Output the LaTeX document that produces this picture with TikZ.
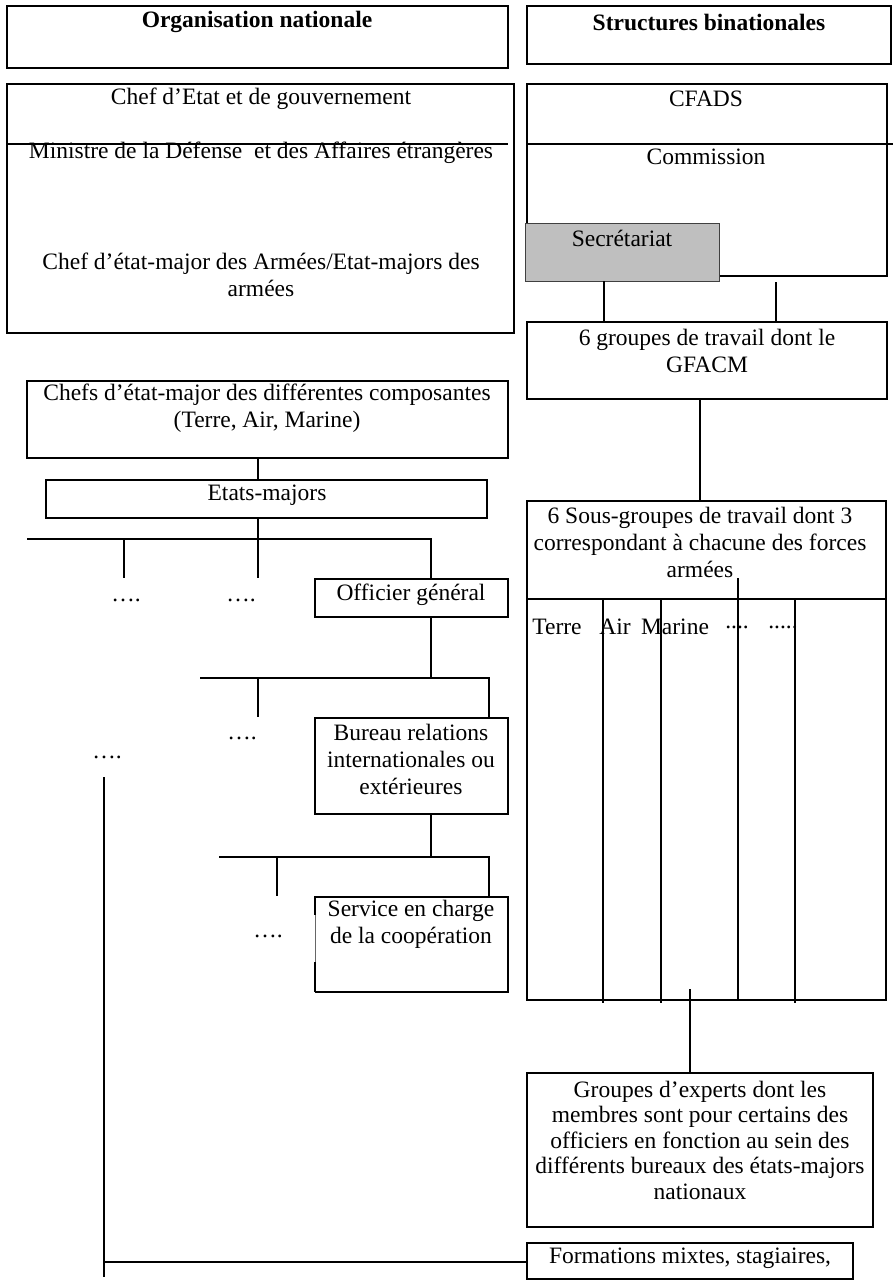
\documentclass[tikz,border=0pt]{standalone}
\usepackage{fontspec}
\setmainfont{Liberation Serif}
\usetikzlibrary{calc}
\begin{document}
\begin{tikzpicture}[x=1pt,y=-1pt,
  line width=1.3pt,
  box/.style={draw, inner sep=0pt, outer sep=0pt, line width=1.3pt},
  txt/.style={inner sep=0pt, align=center, font=\fontsize{23.5}{27}\selectfont},
  ttl/.style={inner sep=0pt, align=center, font=\fontsize{23.5}{27}\selectfont\bfseries},
  secr/.style={fill=black!25, draw=black!75, line width=0.8pt, inner sep=0pt, outer sep=0pt}
]
\useasboundingbox[fill=white] (0,0) rectangle (893,1281);

% headers
\node[box, minimum width=501pt, minimum height=62pt] (hdrL) at (257.5,37) {};
\node[box, minimum width=364pt, minimum height=58pt] (hdrR) at (709,35) {};
\node[ttl] (tL) at (257,22) {Organisation nationale};
\node[ttl] (tR) at (709,22) {Structures binationales};

% national top box
\node[box, minimum width=507pt, minimum height=249pt] (natL) at (260.5,208.5) {};
\coordinate (nlA) at (7,144);
\coordinate (nlB) at (508,144);
\draw (nlA) -- (nlB);
\node[txt] (chef) at (261,99) {Chef d’Etat et de gouvernement};
\node[txt] (mini) at (261,153) {Ministre de la Défense\ \ et des Affaires étrangères};
\node[txt] (cema) at (261,274.5) {Chef d’état-major des Armées/Etat-majors des\\armées};

% binational top box
\node[box, minimum width=360pt, minimum height=192pt] (cfads) at (707,180) {};
\coordinate (crA) at (527,144);
\coordinate (crB) at (893,144);
\draw (crA) -- (crB);
\node[txt] (tcfads) at (706,99) {CFADS};
\node[txt] (tcomm) at (706,157) {Commission};
\node[secr, minimum width=194pt, minimum height=58pt] (secret) at (622,252) {};
\node[txt] (tsecr) at (622,238) {Secrétariat};

% GFACM
\node[box, minimum width=360pt, minimum height=77pt] (gfacm) at (707,360.5) {};
\node[txt] (tgfacm) at (707,350.5) {6 groupes de travail dont le\\GFACM};
\coordinate (c1) at (604,281);
\coordinate (c2) at (776,282);
\draw (c1) -- (c1 |- gfacm.north);
\draw (c2) -- (c2 |- gfacm.north);

% sous-groupes
\node[box, minimum width=359pt, minimum height=499pt] (sous) at (706.5,750.5) {};
\node[txt] (tsous) at (700,542.5) {6 Sous-groupes de travail dont 3\\correspondant à chacune des forces\\armées};
\coordinate (g1) at (700,0);
\draw (gfacm.south -| g1) -- (sous.north -| g1);
\coordinate (shA) at (527,599);
\coordinate (shB) at (886,599);
\draw (shA) -- (shB);
\coordinate (v1) at (603,599);
\coordinate (v2) at (661,599);
\coordinate (v3) at (738,578);
\coordinate (v4) at (795,599);
\coordinate (w1) at (603,1003);
\coordinate (w2) at (661,1003);
\coordinate (w3) at (738,1001);
\coordinate (w4) at (795,1003);
\draw (v1) -- (w1);
\draw (v2) -- (w2);
\draw (v3) -- (w3);
\draw (v4) -- (w4);
\node[txt] (cTerre) at (557,627) {Terre};
\node[txt] (cAir) at (615,627) {Air};
\node[txt] (cMar) at (675,627) {Marine};
\node[txt] (cD1) at (737,627) {....};
\node[txt] (cD2) at (783,627) {.....};

% experts
\node[box, minimum width=346pt, minimum height=154pt] (experts) at (700,1150) {};
\node[inner sep=0pt, align=center, font=\fontsize{23.5}{25.5}\selectfont] (texperts) at (700,1140) {Groupes d’experts dont les\\membres sont pour certains des\\officiers en fonction au sein des\\différents bureaux des états-majors\\nationaux};
\coordinate (e1) at (690,989);
\draw (e1) -- (e1 |- experts.north);

% formations
\node[box, minimum width=326pt, minimum height=36pt] (form) at (690,1261) {};
\node[txt] (tform) at (690,1258) {Formations mixtes, stagiaires,};

% national tree
\node[box, minimum width=481pt, minimum height=77pt] (chefs) at (267.5,419.5) {};
\node[txt] (tchefs) at (267,408.5) {Chefs d’état-major des différentes composantes\\(Terre, Air, Marine)};
\node[box, minimum width=441pt, minimum height=38pt] (etats) at (266.5,499) {};
\node[txt] (tetats) at (267,495) {Etats-majors};
\coordinate (x258) at (258,0);
\draw (chefs.south -| x258) -- (etats.north -| x258);

\node[box, minimum width=193pt, minimum height=38pt] (offi) at (411.5,598) {};
\node[txt] (toffi) at (411,595) {Officier général};
\coordinate (b1L) at (27,539);
\coordinate (b1M) at (258,539);
\coordinate (b1R) at (431,539);
\coordinate (d1) at (124,539);
\coordinate (d1e) at (124,578);
\coordinate (d2e) at (258,578);
\draw (etats.south -| x258) -- (b1M);
\draw (b1L) -- (b1R) -- (offi.north -| b1R);
\draw (d1) -- (d1e);
\draw (b1M) -- (d2e);
\node[txt] (dots1) at (126,600) {….};
\node[txt] (dots2) at (241,600) {….};

\node[box, minimum width=193pt, minimum height=96pt] (bureau) at (411.5,766) {};
\node[txt] (tbureau) at (411,759) {Bureau relations\\internationales ou\\extérieures};
\coordinate (x431) at (431,0);
\coordinate (b2M) at (431,678);
\coordinate (b2L) at (200,678);
\coordinate (b2R) at (489,678);
\coordinate (d3) at (258,678);
\coordinate (d3e) at (258,717);
\draw (offi.south -| x431) -- (b2M);
\draw (b2L) -- (b2R) -- (bureau.north -| b2R);
\draw (d3) -- (d3e);
\node[txt] (dots3) at (242,738) {….};
\node[txt] (dots4) at (107,757) {….};

\node[draw=none, inner sep=0pt, outer sep=0pt, minimum width=193pt, minimum height=95pt] (service) at (411.5,944.5) {};
\draw (service.south west) -- (service.south east) -- (service.north east) -- (service.north west) -- ++(0,18);
\draw (service.south west) -- ++(0,-30);
\draw[line width=0.5pt, black!60] ($(service.north west)+(0,18)$) -- ($(service.south west)+(0,-30)$);
\node[txt] (tservice) at (411,924) {Service en charge\\de la coopération};
\coordinate (b3M) at (431,857);
\coordinate (b3L) at (219,857);
\coordinate (b3R) at (489,857);
\coordinate (d4) at (277,857);
\coordinate (d4e) at (277,896);
\draw (bureau.south -| x431) -- (b3M);
\draw (b3L) -- (b3R) -- (service.north -| b3R);
\draw (d4) -- (d4e);
\node[txt] (dots5) at (268,936) {….};

% long link to formations
\coordinate (lt) at (104,777);
\coordinate (lb) at (104,1277);
\coordinate (lm) at (104,1262);
\draw (lt) -- (lb);
\draw (lm) -- (lm -| form.west);
\end{tikzpicture}
\end{document}
